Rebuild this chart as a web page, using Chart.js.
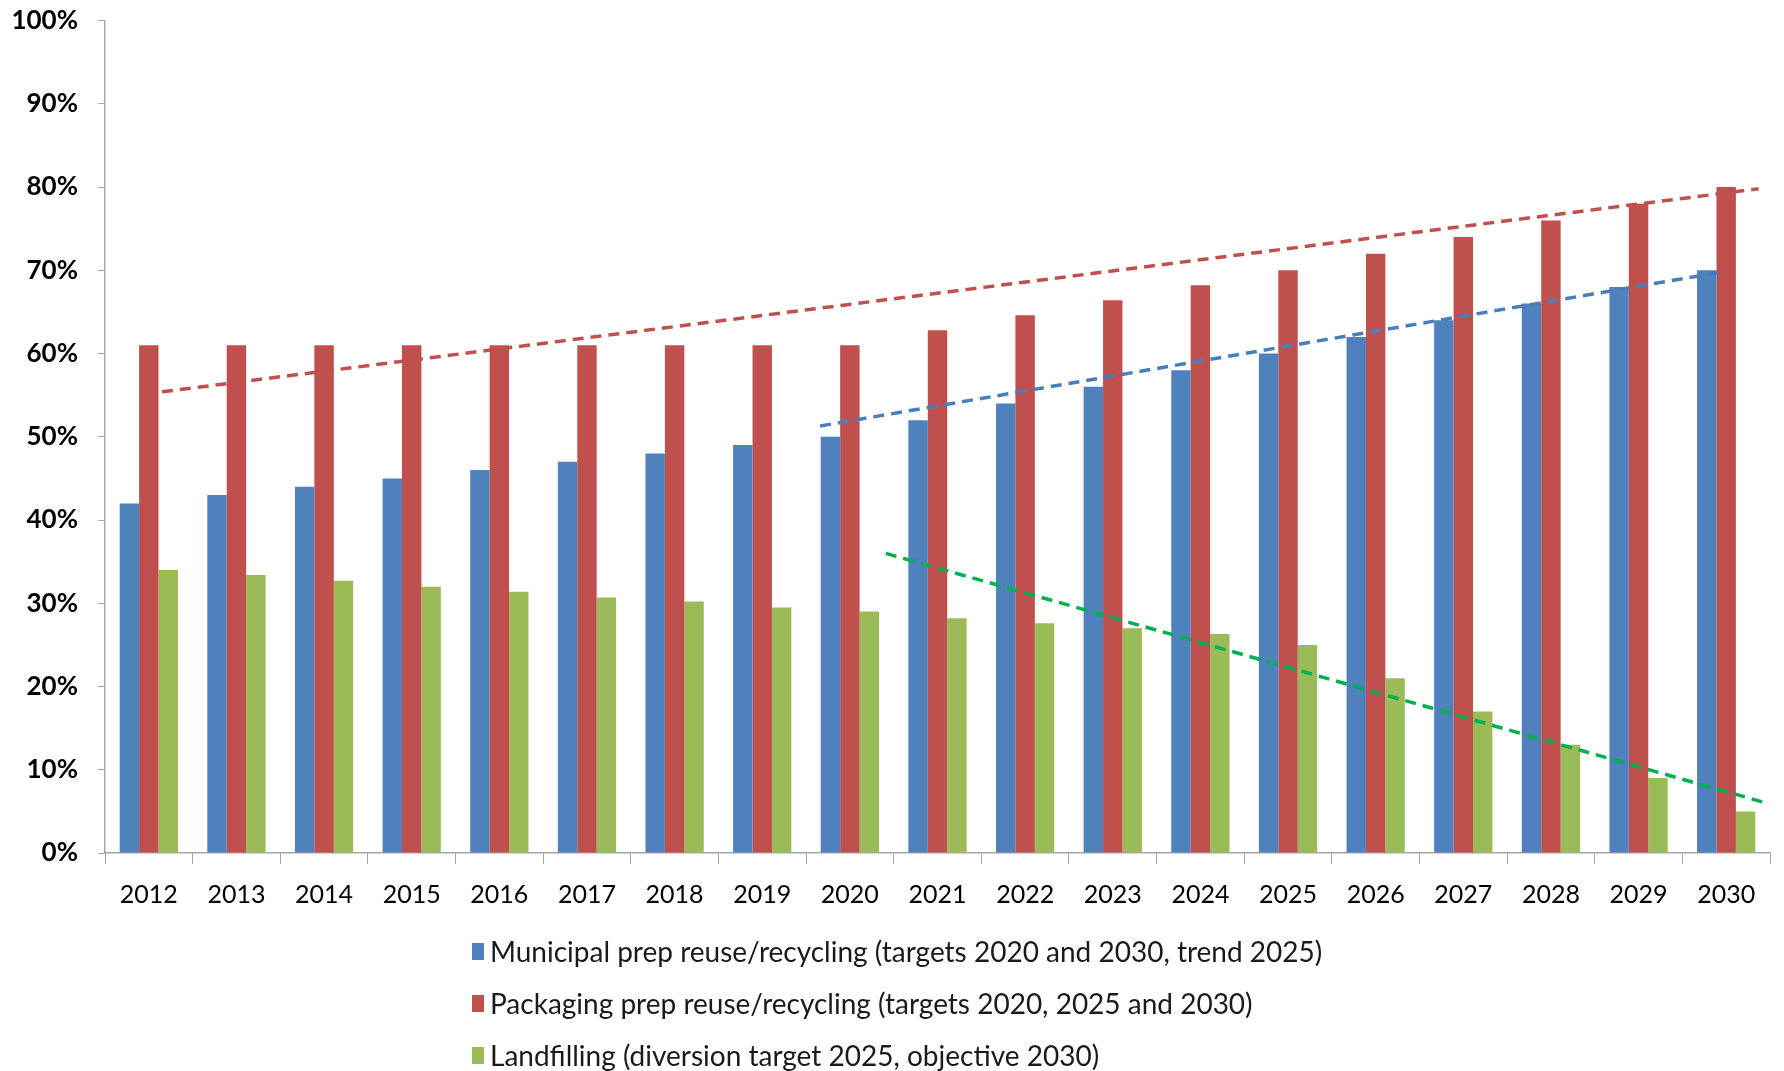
<!DOCTYPE html>
<html>
<head>
<meta charset="utf-8">
<script src="https://cdn.jsdelivr.net/npm/chart.js@4.4.1/dist/chart.umd.min.js"></script>
<style>
  html, body { margin: 0; padding: 0; background: #fff; }
  #wrap { position: relative; width: 1784px; height: 1071px; overflow: hidden; }
  #chart { position: absolute; left: 0; top: -15px; }
  #legend { position: absolute; left: 472px; top: 925px; font-family: Lato, sans-serif; font-size: 28px; color: #1a1a1a; }
  .item { height: 52px; display: flex; align-items: center; }
  .box { width: 12px; height: 17px; margin-right: 6px; }
</style>
</head>
<body>
<div id="wrap">
  <canvas id="chart" width="1784" height="1086"></canvas>
  <div id="legend"></div>
</div>
<script>
// categories and series (percent)
const years = ['2012','2013','2014','2015','2016','2017','2018','2019','2020','2021',
               '2022','2023','2024','2025','2026','2027','2028','2029','2030'];
const municipal = [42, 43, 44, 45, 46, 47, 48, 49, 50, 52, 54, 56, 58, 60, 62, 64, 66, 68, 70];
const packaging = [61, 61, 61, 61, 61, 61, 61, 61, 61, 62.8, 64.6, 66.4, 68.2, 70, 72, 74, 76, 78, 80];
const landfill  = [34, 33.4, 32.7, 32, 31.4, 30.7, 30.2, 29.5, 29, 28.2, 27.6, 27, 26.3, 25, 21, 17, 13, 9, 5];

// dashed trend lines: [category position (0 = 2012), value]
const packagingTrend = [[0.15, 55.4], [18.37, 79.8]];
const municipalTrend = [[7.66, 51.3], [17.95, 69.8]];
const landfillTrend  = [[8.41, 36.0], [18.46, 6.0]];

const labels = [
  'Municipal prep reuse/recycling (targets 2020 and 2030, trend 2025)',
  'Packaging prep reuse/recycling (targets 2020, 2025 and 2030)',
  'Landfilling (diversion target 2025, objective 2030)'
];
const colors = ['#4F81BD', '#C0504D', '#9BBB59'];

const toPts = arr => arr.map(p => ({ x: p[0], y: p[1] }));

// parsing off so the fractional x positions stay on the category scale
function trend(pts, color) {
  return {
    type: 'line', data: toPts(pts), parsing: false,
    borderColor: color, borderWidth: 3.5, borderDash: [11, 7],
    pointRadius: 0, fill: false, order: 0
  };
}

const barSet = (i, data) => ({
  type: 'bar', label: labels[i], data, backgroundColor: colors[i],
  barPercentage: 1, categoryPercentage: 0.665, order: 1
});

new Chart(document.getElementById('chart'), {
  type: 'bar',
  data: {
    labels: years,
    datasets: [
      barSet(0, municipal),
      barSet(1, packaging),
      barSet(2, landfill),
      trend(packagingTrend, '#C0504D'),
      trend(municipalTrend, '#4A7EBB'),
      trend(landfillTrend, '#00B050')
    ]
  },
  options: {
    responsive: false,
    animation: false,
    layout: { padding: { top: 4, right: 14, bottom: 158, left: 0 } },
    plugins: { legend: { display: false }, tooltip: { enabled: false } },
    scales: {
      x: {
        type: 'category',
        offset: true,
        grid: { offset: true, drawOnChartArea: false, tickLength: 11, color: '#A6A6A6' },
        border: { color: '#A6A6A6', width: 1.5 },
        ticks: { color: '#000', padding: 16, font: { family: 'Lato', size: 25 } },
        afterFit: s => { s.height = 60; }
      },
      y: {
        min: 0, max: 100,
        grid: { drawOnChartArea: false, tickLength: 7, color: '#A6A6A6' },
        border: { color: '#A6A6A6', width: 1.5 },
        ticks: {
          stepSize: 10, color: '#000', padding: 20,
          font: { family: 'Lato', size: 26, weight: 'bold' },
          callback: v => v + '%'
        },
        afterFit: s => { s.width = 105; }
      }
    }
  }
});

// legend, one entry per line
const legend = document.getElementById('legend');
labels.forEach((t, i) => {
  const row = document.createElement('div');
  row.className = 'item';
  row.innerHTML = '<span class="box" style="background:' + colors[i] + '"></span><span>' + t + '</span>';
  legend.appendChild(row);
});
</script>
</body>
</html>
